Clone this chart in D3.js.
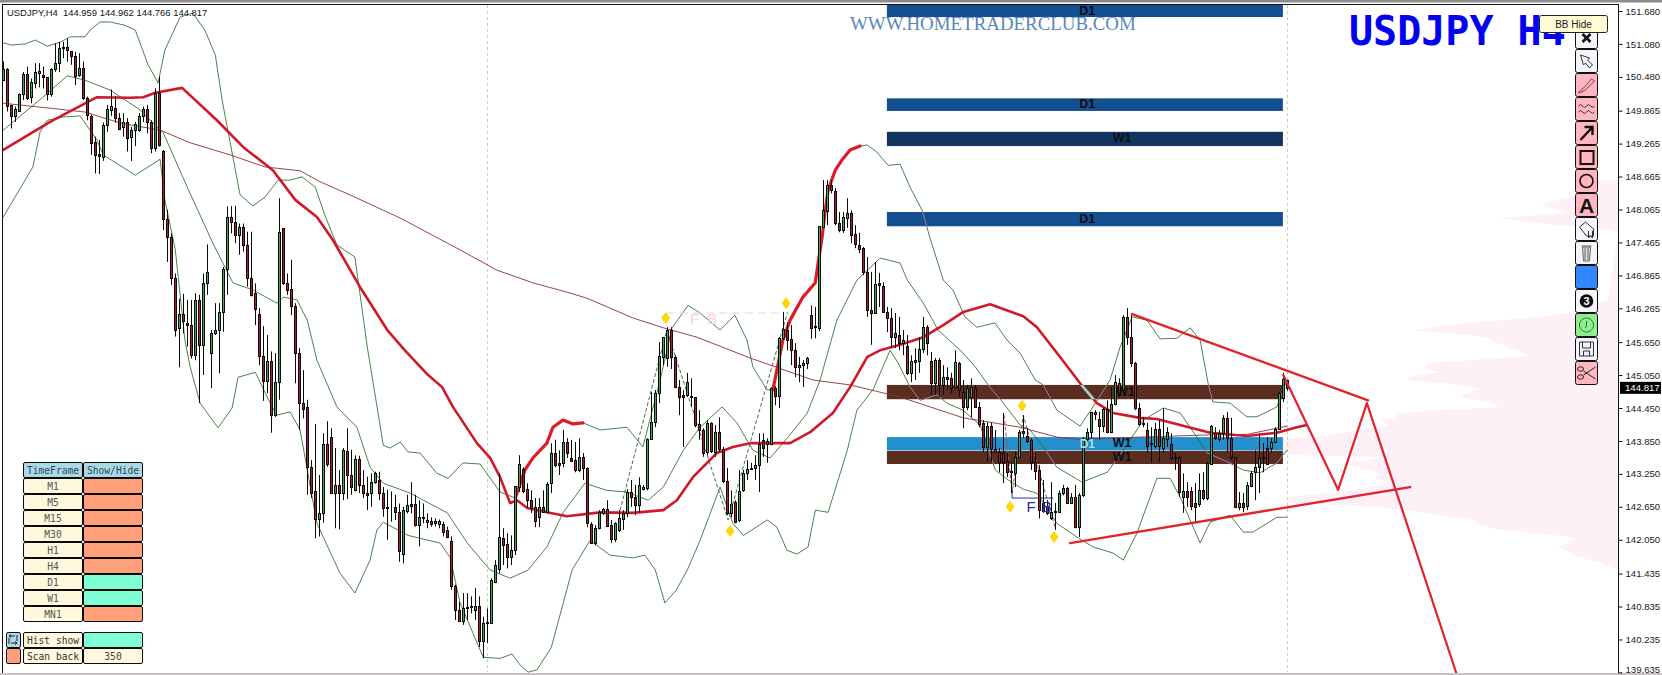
<!DOCTYPE html>
<html><head><meta charset="utf-8">
<style>
html,body{margin:0;padding:0;background:#fff;overflow:hidden}
svg{display:block}
text{font-family:"Liberation Sans",Arial,sans-serif}
.mono{font-family:"DejaVu Sans Mono",monospace}
</style>
<script src="https://cdnjs.cloudflare.com/ajax/libs/d3/7.8.5/d3.min.js"></script>
</head><body><svg id="c" width="1662" height="675"></svg>
<script>
// ---------- DATA (prices) ----------
const headerText = "USDJPY,H4  144.959 144.962 144.766 144.817";
const watermark = "WWW.HOMETRADERCLUB.COM";
const bigTitle = "USDJPY H4";
const lastPrice = 144.817;
const priceTicks = [151.68,151.08,150.48,149.865,149.265,148.665,148.065,147.465,146.865,146.265,145.65,145.05,144.45,143.85,143.25,142.65,142.05,141.435,140.835,140.235,139.635];

// open, high, low, close
const candlesA = [
[150.42,150.76,150.42,150.62],[150.62,150.64,149.85,149.95],[149.97,149.97,149.54,149.76],[149.76,149.94,149.66,149.89],[149.86,150.18,149.85,150.16],[150.16,150.57,150.06,150.53],[150.53,150.67,150.06,150.09],[150.11,150.45,150.00,150.39],[150.37,150.73,150.27,150.57],[150.56,150.73,150.29,150.58],
[150.51,150.67,150.27,150.47],[150.47,150.48,150.05,150.17],[150.17,150.64,150.12,150.62],[150.62,151.09,150.57,150.73],[150.73,151.12,150.57,151.00],[151.02,151.12,150.82,151.00],[151.02,151.18,150.76,150.97],[150.95,150.95,150.70,150.86],[150.86,150.94,150.33,150.50],[150.51,150.91,150.48,150.64],
[150.64,150.76,150.06,150.09],[150.09,150.12,149.69,149.79],[149.76,149.79,149.06,149.28],[149.30,149.39,148.72,149.06],[149.08,149.33,148.71,149.04],[149.03,149.65,148.95,149.60],[149.60,149.97,149.48,149.89],[149.87,150.25,149.77,149.95],[149.91,150.13,149.65,149.73],[149.73,149.82,149.51,149.54],
[149.56,149.82,149.39,149.66],[149.65,149.73,149.12,149.37],[149.39,149.57,148.95,149.51],[149.51,149.66,149.22,149.62],[149.51,149.82,149.48,149.77],[149.77,149.94,149.66,149.90],[149.89,149.97,149.45,149.66],[149.66,149.69,149.09,149.18],[149.18,150.27,149.12,150.18],[150.18,150.48,149.21,149.24],
[149.13,149.15,147.69,147.89],[147.89,148.06,147.11,147.56],[147.56,147.63,146.69,146.81],[146.81,146.90,145.75,145.87],[145.90,146.44,145.19,146.16],[146.16,146.53,145.81,146.04],[146.00,146.42,145.57,145.96],[145.96,146.42,145.35,145.42],[145.42,146.54,145.32,146.42],[146.42,146.51,144.54,145.60],
[145.60,146.90,145.05,146.72],[146.72,147.43,146.51,146.92],[145.46,145.87,144.81,145.81],[145.81,146.36,145.78,145.87],[145.87,146.36,145.08,146.20],[146.20,147.02,145.84,146.98],[146.98,148.12,146.51,147.93],[147.93,148.13,147.63,147.83],[147.83,148.13,147.45,147.60],[147.60,147.81,147.24,147.75],
[147.75,147.81,147.30,147.42],[147.42,147.66,146.66,146.82],[146.82,147.66,146.48,146.51],[146.55,146.72,145.96,146.25],[146.17,146.27,145.23,145.40],[145.40,145.94,144.58,144.95],[144.95,145.78,144.72,145.30],[145.30,145.48,144.00,144.32],[144.32,145.45,144.29,144.93],[144.93,148.27,144.60,147.66],
[147.72,147.72,146.69,146.72],[146.73,146.90,146.51,146.60],[146.61,147.15,146.14,146.30],[146.31,146.36,144.90,145.45],[145.45,145.54,144.05,144.54],[144.54,145.14,144.26,144.43],[144.46,144.60,142.87,143.37],[143.37,143.50,142.81,142.91],[142.94,144.16,142.08,142.42],[142.42,143.23,142.11,142.53]];
const candlesB = [
[142.53,143.99,142.36,143.79],[143.79,144.21,143.38,143.43],[143.92,144.08,142.90,142.91],[142.91,143.72,142.26,143.04],[143.04,143.32,142.24,142.91],[142.91,143.72,142.77,143.69],[143.67,144.08,142.79,143.23],[143.23,143.69,142.87,143.01],[142.96,143.59,142.93,143.52],[143.52,143.58,142.90,143.04],
[143.04,143.32,142.81,142.90],[142.91,143.20,142.59,142.87],[142.90,143.26,142.65,143.11],[143.10,143.29,143.07,143.26],[143.14,143.29,142.77,142.90],[142.90,143.01,142.47,142.63],[142.64,142.96,142.05,142.62],[142.65,142.93,142.38,142.64],[142.64,142.87,142.41,142.56],[142.56,142.71,141.65,141.84],
[141.80,142.65,141.62,142.59],[142.58,142.87,142.53,142.68],[142.70,143.10,142.53,142.67],[142.70,142.87,142.29,142.32],[142.32,142.77,141.93,142.47],[142.47,142.71,142.35,142.44],[142.37,142.53,142.26,142.41],[142.40,142.46,142.29,142.34],[142.35,142.44,142.29,142.40],[142.33,142.42,142.26,142.39],
[142.33,142.38,142.11,142.20],[142.22,142.29,142.08,142.10],[142.02,142.11,141.14,141.20],[141.21,141.23,140.59,140.78],[140.78,140.92,140.56,140.58],[140.58,141.08,140.50,140.80],[140.80,141.08,140.59,140.83],[140.84,141.02,140.71,140.82],[140.78,141.17,140.59,140.84],[140.85,141.02,140.10,140.20],
[140.20,140.65,139.89,140.53],[140.53,140.80,140.17,140.55],[140.54,141.35,140.53,141.32],[141.29,141.68,141.26,141.59],[141.52,143.26,141.44,142.10],[142.08,142.26,141.59,141.95],[141.97,142.17,141.53,141.73],[141.73,142.13,141.59,141.86],[141.86,143.03,141.77,143.03],[143.01,143.59,142.92,143.43],
[143.34,143.37,142.90,142.94],[142.97,143.08,142.63,142.77],[142.77,142.95,142.54,142.63],[142.65,142.81,142.28,142.39],[142.46,142.81,142.28,142.65],[142.65,142.95,142.54,142.55],[142.55,143.10,142.54,143.06],[143.08,143.81,142.90,143.63],[143.63,143.87,143.37,143.41],[143.45,143.68,143.23,143.41],
[143.45,144.05,143.37,143.83],[143.83,143.90,143.54,143.63],[143.54,143.87,143.47,143.48],[143.50,143.83,143.28,143.32],[143.32,143.90,143.28,143.56],[143.56,143.63,143.14,143.36],[143.36,143.37,142.28,142.35],[142.33,142.37,141.99,141.99],[141.99,142.32,141.95,142.26],[142.26,142.59,142.24,142.55],
[142.54,142.63,142.50,142.61],[142.61,142.77,142.28,142.30],[142.32,142.41,141.99,142.06],[142.06,142.37,142.01,142.35],[142.23,142.59,142.19,142.45],[142.43,142.59,142.23,142.54],[142.54,142.97,142.46,142.92],[142.92,143.14,142.65,142.83],[142.83,143.05,142.50,142.68],[142.68,143.19,142.55,143.05]];
const candlesC = [
[142.97,143.05,142.95,143.01],[142.99,143.90,142.95,143.88],[143.88,144.74,143.87,144.19],[144.19,144.78,144.10,144.72],[144.72,145.65,144.54,145.40],[145.38,145.74,145.23,145.74],[145.36,145.92,145.20,145.87],[145.87,145.92,145.16,145.38],[145.38,145.41,144.81,144.83],[144.83,144.96,144.32,144.65],
[144.68,144.78,143.74,144.65],[144.68,145.09,144.65,144.92],[144.67,144.99,144.47,144.65],[144.65,144.65,144.10,144.14],[144.16,144.41,143.87,144.05],[144.05,144.08,143.56,143.63],[143.65,144.23,143.59,144.18],[144.18,144.19,143.63,143.67],[143.65,144.14,143.56,144.01],[144.01,144.28,143.65,143.70],
[143.70,143.74,143.08,143.12],[143.12,143.36,142.50,142.54],[142.54,142.95,142.46,142.70],[142.74,142.77,142.35,142.37],[142.41,143.32,142.37,142.94],[142.95,143.32,142.92,143.26],[143.26,143.50,143.14,143.34],[143.34,143.45,143.32,143.36],[143.36,143.59,143.14,143.41],[143.41,143.99,142.92,143.79],
[143.87,143.99,143.56,143.72],[143.85,143.90,143.45,143.79],[143.79,144.83,143.77,144.81],[144.81,144.85,144.50,144.67],[144.67,145.74,144.45,145.72],[145.72,146.20,145.69,145.89],[145.87,146.01,145.50,145.69],[145.71,145.96,145.23,145.50],[145.50,145.63,145.01,145.19],[145.19,145.38,144.92,145.23],
[145.23,145.32,144.83,145.27],[145.27,145.38,145.16,145.36],[146.14,146.32,145.71,145.91],[145.94,146.29,145.72,145.92],[145.91,147.76,145.85,147.76],[147.75,148.60,147.75,148.05],[148.04,148.60,147.78,148.51],[148.51,148.60,148.36,148.42],[148.40,148.46,147.78,147.82],[147.82,148.02,147.65,147.69],
[147.69,148.02,147.64,147.93],[147.91,148.27,147.73,148.00],[148.00,148.05,147.45,147.60],[147.62,147.78,147.36,147.44],[147.42,147.64,147.27,147.34],[147.36,147.38,146.87,146.93],[146.93,147.20,146.11,146.23],[146.23,146.93,145.60,146.18],[146.18,147.11,146.18,146.71],[146.73,146.91,146.29,146.69],
[146.67,146.74,146.18,146.20],[146.20,146.29,145.83,146.09],[146.09,146.27,145.54,145.74],[145.74,146.18,145.54,145.81],[145.78,146.11,145.50,145.63],[145.63,145.87,145.41,145.69],[145.58,145.78,145.05,145.09],[145.09,145.41,144.92,145.30],[145.32,145.54,144.96,145.29],[145.30,145.74,145.09,145.52],
[145.52,146.11,145.45,145.92],[145.92,145.96,145.41,145.63],[145.30,145.47,144.69,144.90],[144.90,145.36,144.69,145.32],[145.32,145.36,144.65,144.87],[144.87,145.23,144.69,145.01],[145.01,145.19,144.78,144.98],[145.00,145.09,144.72,144.81],[144.83,145.50,144.81,145.29],[145.27,145.29,144.65,144.78]];
const candlesD = [
[144.74,144.96,144.08,144.47],[144.47,144.87,144.41,144.81],[144.65,144.99,144.28,144.83],[144.81,144.87,144.45,144.47],[144.47,144.56,144.10,144.16],[144.18,144.23,143.65,143.74],[143.74,144.19,143.47,144.12],[144.12,144.18,143.47,143.70],[143.70,144.05,143.63,143.65],[143.65,143.72,143.28,143.47],
[143.63,144.36,143.08,143.47],[143.48,143.63,143.19,143.28],[143.30,143.47,142.90,143.28],[143.26,143.65,143.01,143.56],[143.56,144.05,143.54,144.01],[144.03,144.32,143.90,144.00],[143.94,144.08,143.81,143.85],[143.87,143.90,143.32,143.47],[143.47,143.63,143.14,143.30],[143.32,143.41,142.44,142.59],
[142.57,143.14,142.54,142.72],[142.66,142.77,142.50,142.54],[142.44,143.10,142.41,142.55],[142.57,142.72,142.23,142.55],[142.55,142.95,142.54,142.90],[142.90,143.05,142.86,142.99],[142.99,143.01,142.72,142.72],[142.72,142.90,142.70,142.83],[142.83,143.05,142.26,142.28],[142.28,142.90,142.10,142.86],
[142.86,143.92,142.83,143.88],[143.88,144.08,143.81,144.01],[144.01,144.38,143.87,144.38],[144.38,144.41,144.23,144.34],[144.25,144.38,143.87,144.12],[144.12,144.45,144.01,144.43],[144.43,144.59,143.99,144.01],[144.01,144.83,143.99,144.52],[144.52,145.05,144.50,144.92],[144.90,144.99,144.65,144.69],
[144.78,146.14,144.72,146.11],[146.11,146.27,145.60,145.74],[145.74,146.14,145.20,145.27],[145.27,145.29,144.41,144.45],[144.45,144.54,144.12,144.16],[144.18,144.28,144.10,144.16],[144.05,144.18,143.63,143.76],[143.79,144.10,143.45,143.81],[143.76,144.18,143.72,144.07],[144.07,144.23,143.47,143.76],
[143.72,144.45,143.63,143.90],[143.88,144.10,143.74,144.01],[143.79,143.99,143.50,143.54],[143.56,143.63,143.32,143.54],[143.56,143.57,142.83,142.92],[142.83,143.26,142.54,142.94],[142.94,143.10,142.65,142.83],[142.94,143.01,142.59,142.66],[142.72,143.08,142.37,142.65],[142.70,143.26,142.65,142.95],
[142.95,143.28,142.77,142.81],[142.81,143.47,142.77,143.45],[143.43,144.14,143.41,144.12],[144.00,144.10,143.87,143.90],[143.88,144.05,143.83,144.00],[144.00,144.32,143.87,144.27],[144.27,144.38,143.63,143.90],[143.90,144.27,143.50,143.56],[143.56,143.56,142.63,142.65],[142.65,142.92,142.59,142.72],
[142.72,142.90,142.55,142.65],[142.66,143.10,142.59,143.05],[143.03,143.30,143.01,143.26],[143.28,143.68,142.77,143.37],[143.37,143.99,142.90,143.54],[143.54,143.81,143.28,143.56],[143.72,143.92,143.41,143.43],[143.72,143.90,143.63,143.83],[143.83,144.10,143.81,144.07],[144.07,144.74,144.05,144.72],
[144.63,145.09,144.56,144.97],[144.959,144.962,144.766,144.817]];

// [bar index, price]
const bbUpper = [[0,151.10],[2,151.06],[5.4,151.08],[8,151.15],[11,151.04],[14.2,151.11],[16.7,151.21],[20.4,151.21],[21.7,151.33],[24.2,151.48],[26.7,151.48],[30.4,151.42],[33,151.33],[36.2,150.70],[38.7,150.37],[40.4,150.97],[44.2,151.57],[47.4,151.64],[50.4,151.33],[53,150.88],[54.7,150.06],[57.4,149.02],[59.2,148.33],[62.4,148.13],[65.4,148.29],[68.7,148.60],[71.7,148.60],[74.7,148.66],[78,148.47],[80.4,147.96],[83.4,147.42],[87.9,147.20],[91,145.56],[95,143.77],[96.7,143.72],[99.2,143.83],[101.2,143.65],[104.2,143.63],[108.4,143.26],[111.2,143.17],[114.9,143.45],[119.2,143.43],[124.2,142.92],[128,142.81],[130.4,143.32],[132.4,143.54],[135.9,143.81],[137.4,144.10],[139.9,144.23],[142.4,144.16],[144.9,144.18],[149.2,144.05],[155.9,144.10],[159.9,143.74],[164.2,144.96],[167.2,145.91],[171.2,146.32],[174.2,146.18],[179.2,145.87],[182.9,146.14],[185.9,145.69],[187.4,145.20],[190.9,144.78],[192.4,144.78],[194.9,145.69],[196.7,146.05],[199.9,146.47],[203,146.73],[203.7,147.09],[204.7,147.56],[205.4,148.00],[206.2,148.42],[208,148.78],[209.7,148.97],[211.7,149.15],[214.2,149.22],[215.9,149.24],[218.4,149.11],[221.2,148.87],[224.2,148.89],[226.7,148.47],[229.7,148.05],[231.7,147.54],[235,146.78],[237.4,146.60],[240.4,146.11],[243.4,145.92],[247.9,146.00],[250.9,145.69],[254.2,145.45],[258,144.96],[260,144.87],[263.4,144.41],[269.2,144.12],[272.4,144.47],[276.7,144.96],[279.2,145.56],[282.2,146.11],[285.9,146.05],[289.2,145.71],[293.4,145.72],[296.7,145.91],[299.2,145.69],[301.2,144.90],[302.4,144.56],[306.7,144.54],[310.9,144.29],[313.4,144.29],[318.4,144.47],[320.9,144.96]];
const bbMiddle = [[0,149.51],[9.9,150.11],[16,150.50],[20.4,150.42],[26.7,150.24],[34.2,149.88],[38.4,149.57],[40,149.46],[46,148.47],[52.4,147.45],[57.4,146.73],[62.4,146.60],[68.4,146.36],[70,146.47],[73.4,146.42],[76,146.05],[78.4,145.32],[83.4,144.47],[88.4,144.10],[91.7,143.37],[95,143.08],[101.7,142.90],[111,142.54],[116,141.99],[121.7,141.50],[126.7,141.35],[131.2,141.50],[135.9,141.92],[139.9,142.54],[145.4,143.08],[150.9,142.95],[155.9,142.92],[161.2,142.77],[165,143.01],[170,143.68],[174.2,144.10],[179.7,144.47],[183.4,144.18],[187.4,143.68],[191.7,143.54],[196.2,143.92],[201,144.36],[204.2,144.96],[208.4,146.05],[213.4,146.78],[219.2,147.18],[224.2,147.09],[226,146.78],[230,146.36],[233.7,145.87],[239.7,145.47],[243,145.20],[246.2,144.87],[250,144.54],[254.2,144.14],[256.7,144.05],[260,143.74],[263.4,143.37],[269.7,143.10],[276,143.28],[280,143.68],[285,144.23],[290,144.45],[294.2,144.36],[298.4,143.92],[301,143.63],[306,143.47],[310,143.32],[314.2,143.27],[318.4,143.45],[320.9,143.68]];
const bbLower = [[0,147.93],[7.4,148.84],[9.2,149.48],[11,149.69],[15,149.75],[19.2,149.77],[23.4,149.33],[25,149.06],[33,148.69],[39.2,148.98],[40.4,148.24],[43,147.33],[45.4,145.69],[46.7,145.20],[49.2,144.54],[53.7,144.09],[57.2,144.45],[58.7,145.01],[63,145.10],[66.7,144.54],[68.4,144.32],[71.7,144.38],[74.2,144.05],[78.4,142.35],[84.2,141.44],[87.9,141.08],[91.7,141.68],[93.4,142.23],[95,142.37],[101.2,142.13],[109.2,141.99],[111.7,141.73],[114.2,140.90],[120,139.91],[124.2,139.89],[127.2,139.97],[129.2,139.77],[131.2,139.64],[133.4,139.68],[137,140.09],[142.2,141.50],[146.7,142.04],[151.7,141.77],[157.4,141.72],[160.4,141.77],[163,141.50],[165.4,140.90],[168.2,141.13],[171,141.50],[174.2,142.04],[179.2,143.01],[182.4,142.35],[185,142.13],[191,142.41],[193.4,142.28],[195.9,141.86],[198.4,141.79],[201.2,141.92],[203,142.59],[206.2,142.55],[211,143.68],[213.4,144.41],[217.4,144.78],[221.7,145.50],[223.7,145.27],[226.7,144.83],[229.2,144.59],[233.4,144.69],[235.9,144.54],[239.9,144.41],[244.2,144.14],[248,143.32],[251.2,143.14],[255,142.97],[258.4,142.90],[263.4,142.35],[268.4,142.10],[272.4,141.92],[277.4,141.81],[280,141.68],[283.4,142.17],[288.4,143.17],[291.7,143.17],[294.2,142.83],[299.2,141.99],[301.7,142.37],[306.7,142.50],[310,142.19],[312.4,142.19],[318.4,142.46],[320.9,142.46]];
const maFast = [[0,149.15],[11.7,149.66],[23.4,150.11],[31.7,150.10],[35,150.11],[38,150.19],[44.7,150.28],[53.4,149.69],[60,149.20],[67.4,148.78],[73,148.24],[78.4,147.93],[82.4,147.51],[89.2,146.65],[96,145.87],[100.4,145.50],[106.2,145.05],[109.7,144.83],[112.4,144.47],[118.4,143.81],[121.7,143.54],[124.2,143.19],[126.7,142.72],[128.4,142.77],[131,142.63],[135.9,142.55],[140.9,142.48],[149.2,142.55],[157.4,142.54],[165,142.59],[168.4,142.77],[172.4,143.19],[178.4,143.63],[182.4,143.74],[186.7,143.81],[196.7,143.81],[201.7,144.01],[207.4,144.36],[211.7,144.83],[216,145.38],[219.2,145.50],[224.2,145.60],[230,145.74],[235,145.96],[240,146.20],[246.7,146.34],[255,146.12],[258.4,145.92],[264.2,145.38],[269.2,144.90],[273.4,144.54],[277.4,144.36],[284.2,144.27],[288.4,144.25],[294.2,144.14],[301.7,144.00],[310.9,143.94],[318.4,144.00],[323.4,144.10],[325.9,144.14]];
const maSlow = [[0,150.00],[11.7,149.91],[20.4,149.84],[29.2,149.64],[39.2,149.51],[46.7,149.28],[56.7,149.06],[65.4,148.84],[74.2,148.77],[79.2,148.57],[86.7,148.33],[99.2,147.91],[114.2,147.33],[123.4,146.96],[132.4,146.73],[140.9,146.56],[145.9,146.45],[157.4,146.09],[165,145.91],[173.4,145.74],[186.7,145.36],[202.4,144.96],[211.7,144.87],[224.2,144.65],[240,144.27],[254.2,144.10],[263.4,143.92],[269.2,143.88],[284.2,143.92],[301.7,143.96],[310.9,143.97],[320.9,144.12]];
// stretches of the upper band drawn thick in red [from bar, to bar]
const rideRanges = [[128,144.9],[192.4,214.2]];

// supply / demand zones
const zoneLabels = ["D1","D1","W1","D1","W1","W1","W1"];
const zoneTops   = [151.79,150.09,149.48,148.02,144.87,143.92,143.67];
const zoneBottoms= [151.57,149.86,149.22,147.76,144.61,143.68,143.43];
const zoneColors = ["#14508f","#14508f","#123560","#14508f","#5a2d20","#2290cc","#5a2d20"];
const zoneLabelBars = [271,271,279.7,271,280.5,279.7,279.7];
const zoneFromBar = 220.9, zoneToBar = 319.9;

const diamonds = [[165.6,146.09],[195.7,146.36],[181.7,142.21],[254.7,144.49],[251.7,142.65],[262.7,142.10]];
const dashedGreen = [[154.2,142.59],[165.9,145.87],[181.2,142.41],[196,146.18]];
const dashedRed = [[250.2,144.32],[252.2,142.90],[255,144.32],[263,142.26]];
const trendTop = [[282.2,146.16],[341.2,144.59]];
const trendBottom = [[266.7,141.99],[351.7,143.01]];
const forecast = [[320,145.05],[333.7,142.96],[340.9,144.54],[363.4,139.59]];
const verticalBars = [121,321];

// market profile on the right
const profilePrices = [148.60,148.33,148.15,148.00,147.91,147.84,147.78,147.73,147.64,146.42,146.18,146.09,146.00,145.91,145.87,145.81,145.74,145.65,145.56,145.47,145.40,145.32,145.27,145.18,145.10,145.03,144.96,144.89,144.81,144.74,144.65,144.56,144.47,144.41,144.36,144.28,144.23,144.14,144.05,143.92,143.87,143.74,143.68,143.59,143.56,143.50,143.45,143.36,143.26,143.17,143.08,142.99,142.90,142.83,142.72,142.65,142.54,142.41,142.32,142.23,142.17,142.08,141.99,141.92,141.83,141.74,141.64,141.50];
const profileSizes = [30,40,78,48,118,88,58,18,0,10,48,88,151,188,205,168,131,123,111,96,88,148,191,193,178,208,211,168,138,148,158,128,118,178,218,223,238,228,258,298,378,393,393,318,238,248,278,258,238,243,228,253,285,328,333,241,191,145,138,118,78,41,48,61,48,41,18,0];

// panel
const timeframes = ["M1","M5","M15","M30","H1","H4","D1","W1","MN1"];
const timeframeOn = [0,0,0,0,0,0,1,1,0];

// ---------- SCALES ----------
const svg = d3.select("#c");
const x = d3.scaleLinear().domain([0,321]).range([3.3,1287.3]);
const y = d3.scaleLinear().domain([151.68,139.635]).range([11,672.4]);
const size = d3.scaleLinear().domain([0,400]).range([0,400]);
const px = b => Math.round(x(b));
const line = d3.line().x(d=>x(d[0])).y(d=>y(d[1]));
const candles = candlesA.concat(candlesB,candlesC,candlesD);

// ---------- PROFILE ----------
const pArea = d3.area().y(d=>y(d[0])).x0(1618).x1(d=>1618-size(d[1])).curve(d3.curveLinear);
svg.append("path").datum(d3.zip(profilePrices,profileSizes)).attr("d",pArea).attr("fill","#fdf0f7");

// ---------- VERTICAL SEPARATORS ----------
svg.selectAll(".vs").data(verticalBars).join("line").attr("x1",d=>px(d)+.5).attr("x2",d=>px(d)+.5)
  .attr("y1",5).attr("y2",672).attr("stroke","#bcd6bc").attr("stroke-dasharray","3,3").attr("stroke-width",1);

// ---------- ZONES ----------
const zones = zoneLabels.map((l,i)=>({l,t:zoneTops[i],b:zoneBottoms[i],c:zoneColors[i],lx:zoneLabelBars[i]}));
svg.selectAll(".z").data(zones).join("rect").attr("x",x(zoneFromBar)).attr("width",x(zoneToBar)-x(zoneFromBar))
  .attr("y",d=>y(d.t)).attr("height",d=>y(d.b)-y(d.t)).attr("fill",d=>d.c);
const defs = svg.append("defs");
defs.append("clipPath").attr("id","darkz").selectAll("rect").data(zones.filter(z=>z.c!="#2290cc")).join("rect")
  .attr("x",x(zoneFromBar)).attr("width",x(zoneToBar)-x(zoneFromBar)).attr("y",d=>y(d.t)).attr("height",d=>y(d.b)-y(d.t));

// ---------- LINES ----------
function path(data,color,w,extra){const p=svg.append("path").datum(data).attr("d",line).attr("fill","none").attr("stroke",color).attr("stroke-width",w).attr("stroke-linejoin","round").attr("stroke-linecap","round"); if(extra)extra(p); return p;}
path(maSlow,"#8c2f3c",.9);
[bbUpper,bbMiddle,bbLower].forEach(b=>path(b,"#2c6a2c",.85));
[bbUpper,bbMiddle,bbLower].forEach(b=>path(b,"#b27cc8",.85,p=>p.attr("clip-path","url(#darkz)")));
path(maFast,"#d0182a",2.6);
path(maFast,"#8fd6d6",2.6,p=>p.attr("clip-path","url(#darkz)"));
rideRanges.forEach(r=>path(bbUpper.filter(d=>d[0]>=r[0]&&d[0]<=r[1]),"#e01a24",3.2));

// dashed zigzags
path(dashedGreen,"#4a6a4a",1,p=>p.attr("stroke-dasharray","3,3"));
path(dashedRed,"#a8505a",1,p=>p.attr("stroke-dasharray","3,3"));
// FB levels
svg.append("line").attr("x1",x(165.9)).attr("x2",x(195)).attr("y1",y(146.18)).attr("y2",y(146.18)).attr("stroke","#f0cfdc").attr("stroke-dasharray","8,5");
svg.append("path").attr("d",`M${x(252.2)},${y(142.99)}V${y(142.81)}H${x(262.5)}`).attr("fill","none").attr("stroke","#2a2a9a");

// ---------- CANDLES ----------
const cg = svg.append("g").selectAll("g").data(candles).join("g");
cg.append("line").attr("x1",(d,i)=>px(i)+.5).attr("x2",(d,i)=>px(i)+.5).attr("y1",d=>y(d[1])).attr("y2",d=>y(d[2])).attr("stroke","#0a0a0a").attr("stroke-width",1);
cg.append("rect").attr("x",(d,i)=>px(i)-.5).attr("width",2)
  .attr("y",d=>Math.round(y(Math.max(d[0],d[3])))+.5)
  .attr("height",d=>Math.max(0,Math.round(y(Math.min(d[0],d[3])))-Math.round(y(Math.max(d[0],d[3])))))
  .attr("fill",d=>d[3]>=d[0]?"#46a558":"#a81f2a").attr("stroke","#0a0a0a").attr("stroke-width",1);

// ---------- TREND LINES ----------
[trendTop,trendBottom].forEach(t=>path(t,"#e2222c",2.4));
path(forecast,"#e2222c",2.2);

// ---------- DIAMONDS ----------
svg.selectAll(".d").data(diamonds).join("path").attr("d",d3.symbol(d3.symbolDiamond2 || d3.symbolDiamond,70))
  .attr("transform",d=>`translate(${x(d[0])},${y(d[1])}) scale(.85,1.15)`).attr("fill","#ffd60a");

// ---------- ZONE LABELS ----------
svg.selectAll(".zl").data(zones).join("text").attr("x",d=>x(d.lx)).attr("y",d=>(y(d.t)+y(d.b))/2+3.5)
  .attr("text-anchor","middle").attr("font-size",12.5).attr("font-weight","bold").attr("fill","#0d0d16").text(d=>d.l);
svg.append("text").attr("x",x(271)).attr("y",(y(143.92)+y(143.68))/2+4).attr("text-anchor","middle").attr("font-size",12).attr("font-weight","bold").attr("fill","#a8dff0").text("D1");

// ---------- FB TEXT ----------
svg.append("text").attr("x",x(171.6)).attr("y",324).attr("font-size",15).attr("letter-spacing",2).attr("fill","#f4d3e0").text("F B");
svg.append("text").attr("x",x(255.8)).attr("y",512).attr("font-size",15).attr("letter-spacing",1).attr("fill","#2a2aa8").text("F B");

// ---------- TITLES ----------
svg.append("text").attr("x",850).attr("y",30).style("font-family","'Liberation Serif',serif").attr("font-size",18.9).attr("fill","#5b87b8").text(watermark);
svg.append("text").attr("x",1349).attr("y",45).attr("class","mono").attr("font-size",40).attr("font-weight","bold").attr("fill","#0202f0").text(bigTitle);
svg.append("text").attr("x",7).attr("y",15.5).attr("font-size",9.45).attr("fill","#111").style("white-space","pre").text(headerText);

// ---------- FRAME & AXIS ----------
svg.append("rect").attr("x",0).attr("y",0).attr("width",1662).attr("height",2.5).attr("fill","#8c8c8c");
svg.append("line").attr("x1",2.5).attr("x2",1618).attr("y1",4.5).attr("y2",4.5).attr("stroke","#111");
svg.append("line").attr("x1",2.5).attr("x2",2.5).attr("y1",4).attr("y2",673).attr("stroke","#111");
svg.append("rect").attr("x",0).attr("y",673).attr("width",1662).attr("height",2).attr("fill","#c9c4c4");
const axis = d3.axisRight(y).tickValues(priceTicks).tickSize(4).tickPadding(3).tickFormat(d3.format(".3f"));
const ag = svg.append("g").attr("transform","translate(1618.5,0)").call(axis);
ag.select(".domain").attr("stroke","#111").attr("d","M0,4V673");
ag.selectAll(".tick line").attr("stroke","#111");
ag.selectAll("text").attr("font-size",9.6).style("font-family","'Liberation Sans',sans-serif").attr("fill","#1a1a1a");
ag.selectAll(".tick").filter(d=>d===139.635).select("text").attr("dy","0.05em");
svg.append("rect").attr("x",1620).attr("y",y(lastPrice)-6).attr("width",41).attr("height",12).attr("fill","#000");
svg.append("text").attr("x",1625).attr("y",y(lastPrice)+3.5).attr("font-size",9.6).attr("fill","#fff").text(lastPrice.toFixed(3));

// ---------- LEFT PANEL ----------
const panel = svg.append("g");
function cell(px0,py,w,h,fill,label,color,anchor){
  panel.append("rect").attr("x",px0+.5).attr("y",py+.5).attr("width",w).attr("height",h).attr("rx",1.5).attr("fill",fill).attr("stroke","#0a0a0a");
  if(label!==undefined) panel.append("text").attr("class","mono").attr("x",px0+w/2+.5).attr("y",py+h/2+4).attr("text-anchor","middle").attr("font-size",9.6).attr("fill",color||"#444").text(label);
}
cell(23,462,59,15,"#add8e6","TimeFrame","#1d4d5c");
cell(83,462,59,15,"#add8e6","Show/Hide","#1d4d5c");
timeframes.forEach((t,i)=>{
  cell(23,478+16*i,59,15,"#fff8dc",t,"#555");
  cell(83,478+16*i,59,15,timeframeOn[i]?"#7fffd4":"#ffa07a");
});
cell(23,632,59,15,"#fff8dc","Hist show","#333");
cell(83,632,59,15,"#7fffd4");
cell(23,648,59,15,"#fff8dc","Scan back","#333");
cell(83,648,59,15,"#fff8dc","350","#444");
cell(6,632,14,15,"#add8e6");
cell(6,648,14,15,"#ffa07a");
panel.append("path").attr("d","M9,636H15M9,636l2,-1.5M9,636l2,1.5M17,643H11M17,643l-2,-1.5M17,643l-2,1.5M9,638V644M17,635V641").attr("fill","none").attr("stroke","#223");

// ---------- TOOLBAR ----------
const toolFills = ["#f3f5fb","#f3f5fb","#ffb6c1","#ffb6c1","#ffb6c1","#ffb6c1","#ffb6c1","#ffb6c1","#f3f5fb","#f3f5fb","#3388ff","#f3f5fb","#90ee90","#f3f5fb","#ffb6c1"];
const tb = svg.append("g");
toolFills.forEach((f,i)=>{
  const yy = 25+24*i;
  tb.append("rect").attr("x",1575.5).attr("y",yy+.5).attr("width",22).attr("height",23).attr("rx",2).attr("fill",f).attr("stroke","#111");
  const g = tb.append("g").attr("transform",`translate(1586.5,${yy+12})`).attr("fill","none").attr("stroke","#222").attr("stroke-width",1);
  if(i==0) g.append("path").attr("d","M-4,-3L4,5M4,-3L-4,5").attr("stroke-width",2.6).attr("stroke","#111");
  if(i==1) g.append("path").attr("d","M-6,-6L3,-3L1,-1L6,4L3,7L-1,2L-3,4Z").attr("stroke","#333");
  if(i==2) g.append("path").attr("d","M-8,8C-6,5 -3,3 -1,1L5,-6L8,-4L1,3C-2,6 -5,7 -8,8Z").attr("stroke","#7a3a4a");
  if(i==3) g.append("path").attr("d","M-8,-3q2,-3 4,0t4,0t4,0t4,0M-8,3q2,-3 4,0t4,0t4,0t4,0").attr("stroke","#333");
  if(i==4) g.append("path").attr("d","M-6,7L6,-6M-2,-6H6V2").attr("stroke-width",2.4).attr("stroke","#111");
  if(i==5) g.append("rect").attr("x",-6).attr("y",-6).attr("width",13).attr("height",13).attr("stroke-width",2).attr("stroke","#111");
  if(i==6) g.append("circle").attr("r",6.5).attr("stroke-width",1.6).attr("stroke","#111");
  if(i==7) g.append("text").attr("text-anchor","middle").attr("y",8).attr("font-size",21).attr("font-weight","bold").attr("fill","#111").attr("stroke","none").text("A");
  if(i==8) g.append("path").attr("d","M-7,-2L-1,-7L7,0V7H0L-7,-2ZM2,2V9L4,7L6,9V2").attr("stroke","#333");
  if(i==9) g.append("path").attr("d","M-4,-6H4L3,8H-3ZM-5,-7H5M-1.5,-5V7M1.5,-5V7").attr("stroke","#666").attr("fill","#ddd");
  if(i==11){g.append("circle").attr("r",6.8).attr("fill","#111").attr("stroke","none");g.append("text").attr("text-anchor","middle").attr("y",4).attr("font-size",11).attr("font-weight","bold").attr("fill","#fff").attr("stroke","none").text("3");}
  if(i==12) g.append("path").attr("d","M0,-7A7,7 0 1,1 -0.01,-7ZM0,-4V0L-1,3").attr("stroke","#2a7a2a");
  if(i==13) g.append("path").attr("d","M-7,-7H7V7H-7ZM-4,-7V-1H4V-7M-3,7V2H3V7").attr("stroke","#333").attr("fill","#eef");
  if(i==14){g.append("path").attr("d","M-3,-2L9,6M-3,2L9,-6").attr("stroke","#222");g.append("ellipse").attr("cx",-6).attr("cy",-4).attr("rx",3).attr("ry",2.2);g.append("ellipse").attr("cx",-6).attr("cy",4).attr("rx",3).attr("ry",2.2);}
});
// tooltip
svg.append("rect").attr("x",1539.5).attr("y",15.5).attr("width",68).attr("height",17).attr("rx",2).attr("fill","#fffbd4").attr("stroke","#222");
svg.append("text").attr("x",1573.5).attr("y",28).attr("text-anchor","middle").attr("font-size",10).attr("fill","#222").text("BB Hide");
</script></body></html>
